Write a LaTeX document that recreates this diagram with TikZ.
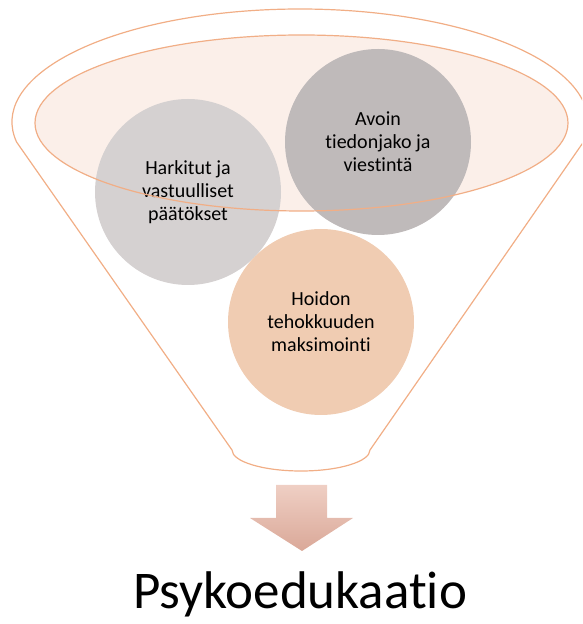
\documentclass[tikz,border=0pt]{standalone}
\usepackage{fontspec}
\setmainfont{Carlito}[Ligatures={NoCommon}]
\definecolor{funnelc}{RGB}{241,174,134}
\definecolor{innerfill}{RGB}{251,239,233}
\definecolor{circA}{RGB}{213,209,209}
\definecolor{circB}{RGB}{191,186,186}
\definecolor{circC}{RGB}{240,204,178}
\definecolor{arrtop}{RGB}{239,207,196}
\definecolor{arrbot}{RGB}{218,168,152}
\begin{document}
\begin{tikzpicture}[x=1pt,y=1pt,
  outl/.style={draw=funnelc, line width=1.2pt},
  bubble/.style={circle, minimum size=186pt, inner sep=0pt, align=center,
    font=\fontsize{20}{23}\selectfont, text=black}]
\useasboundingbox (0,0) rectangle (582,624);
\clip (0,0) rectangle (582,624);
% funnel outline
\draw[outl] (300,502) ++(190.2:288 and 113) coordinate (fl)
  arc[start angle=190.2, end angle=-10.2, x radius=288, y radius=113] coordinate (fr)
  -- (370,174) coordinate (br)
  arc[start angle=0, end angle=-180, x radius=69, y radius=21] coordinate (bl)
  -- cycle;
% inner ellipse fill
\fill[innerfill] (301.5,501) ellipse[x radius=266.5, y radius=88];
% circles
\node[bubble, fill=circA] (harkitut) at (188,432) {Harkitut ja\\vastuulliset\\päätökset};
\node[bubble, fill=circB] (avoin) at (378,482) {Avoin\\tiedonjako ja\\viestintä};
\node[bubble, fill=circC] (hoidon) at (321,302) {Hoidon\\tehokkuuden\\maksimointi};
% inner ellipse outline on top
\draw[outl] (301.5,501) ellipse[x radius=266.5, y radius=88];
% arrow
\shade[top color=arrtop, bottom color=arrbot]
  (276,139) -- (327,139) -- (327,106) -- (353,106) -- (302,73) -- (250,106) -- (276,106) -- cycle;
% title
\node[font=\fontsize{53}{60}\selectfont, anchor=base, inner sep=0pt] (title) at (300,15) {Psykoedukaatio};
\end{tikzpicture}
\end{document}
